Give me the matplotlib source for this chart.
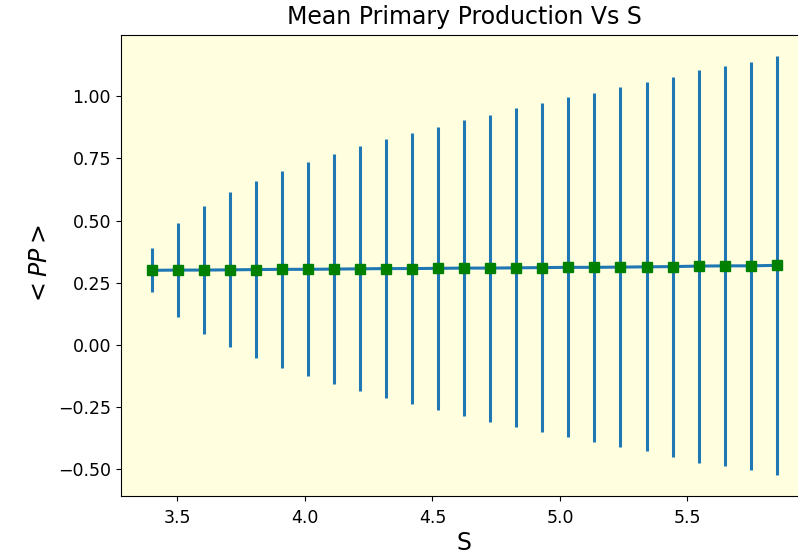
import matplotlib
matplotlib.use("Agg")
import matplotlib.pyplot as plt

S = [3.400, 3.502, 3.604, 3.706, 3.808, 3.910, 4.012, 4.115, 4.217, 4.319,
     4.421, 4.523, 4.625, 4.727, 4.829, 4.931, 5.033, 5.135, 5.237, 5.340,
     5.442, 5.544, 5.646, 5.748, 5.850]
PP_mean = [0.300, 0.301, 0.301, 0.302, 0.303, 0.304, 0.304, 0.305, 0.306, 0.307,
           0.307, 0.308, 0.309, 0.309, 0.310, 0.311, 0.312, 0.312, 0.313, 0.314,
           0.315, 0.317, 0.318, 0.318, 0.320]
PP_err = [0.088, 0.190, 0.258, 0.311, 0.357, 0.395, 0.430, 0.463, 0.492, 0.520,
          0.546, 0.570, 0.594, 0.617, 0.641, 0.662, 0.683, 0.703, 0.723, 0.742,
          0.764, 0.790, 0.804, 0.821, 0.842]

W, H = 798, 556
fig = plt.figure(figsize=(W / 100, H / 100), dpi=100)
left, right, top, bottom = 120.7, 808.0, 35.0, 495.7
ax = fig.add_axes([left / W, 1 - bottom / H, (right - left) / W, (bottom - top) / H])
ax.set_facecolor('#ffffe0')

ax.errorbar(S, PP_mean, yerr=PP_err, color='C0', ecolor='C0', elinewidth=2.2,
            linewidth=2.2, marker='s', markersize=7.5, markerfacecolor='green',
            markeredgecolor='green', zorder=3)

ax.set_title('Mean Primary Production Vs S', fontsize=17, pad=8)
ax.set_xlabel('S', fontsize=17, labelpad=3)
ax.set_ylabel(r'$<PP>$', fontsize=17)
ax.tick_params(labelsize=12.5)
ax.tick_params(axis='x', pad=6)
ax.set_xticks([3.5, 4.0, 4.5, 5.0, 5.5])
ax.set_yticks([-0.5, -0.25, 0.0, 0.25, 0.5, 0.75, 1.0])

fig.savefig('out.png', dpi=100)
